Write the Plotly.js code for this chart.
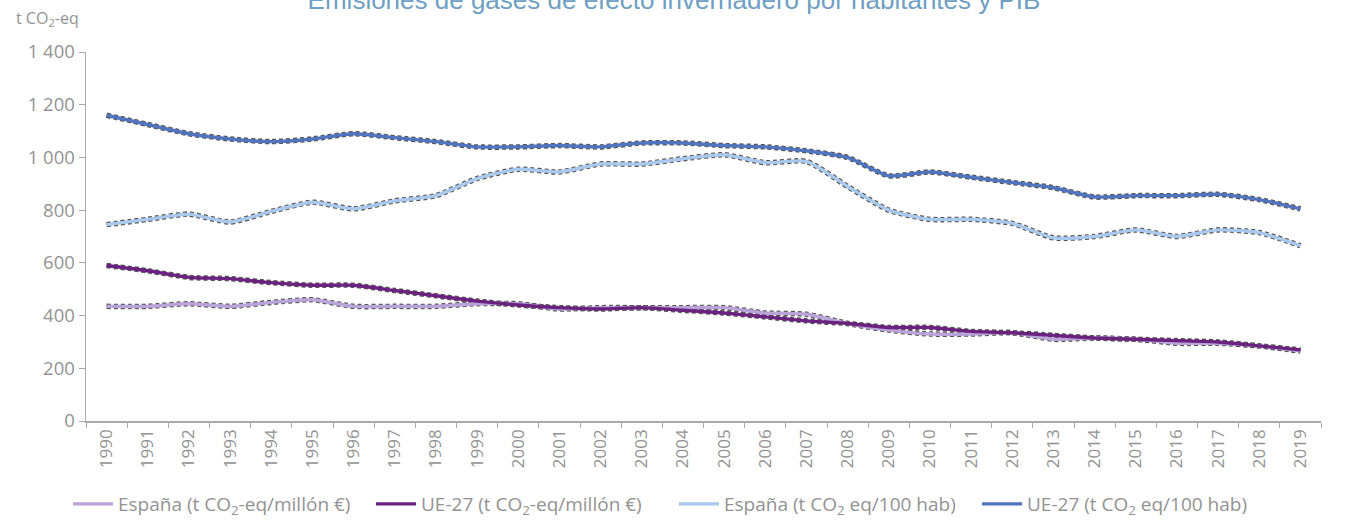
<!DOCTYPE html>
<html><head><meta charset="utf-8">
<script src="https://cdn.plot.ly/plotly-3.0.1.min.js"></script>
<style>html,body{margin:0;padding:0;background:#fff}#chart{width:1348px;height:523px}</style>
</head><body><div id="chart"></div>
<script>
const years = ["1990","1991","1992","1993","1994","1995","1996","1997","1998","1999","2000","2001","2002","2003","2004","2005","2006","2007","2008","2009","2010","2011","2012","2013","2014","2015","2016","2017","2018","2019"];
const espanaPIB = [435,435,445,435,450,460,435,435,435,445,445,425,430,430,430,430,410,405,370,345,330,330,335,310,315,310,295,295,285,265];
const ue27PIB = [590,570,545,540,525,515,515,495,475,455,440,430,425,430,420,410,395,380,370,355,355,340,335,325,315,310,305,300,285,270];
const espanaHab = [745,765,785,755,795,830,805,835,855,920,955,945,975,975,995,1010,980,985,890,800,765,765,750,695,700,725,700,725,715,665];
const ue27Hab = [1160,1125,1090,1070,1060,1070,1090,1075,1060,1040,1040,1045,1040,1055,1055,1045,1040,1025,1000,930,945,925,905,885,850,855,855,860,840,805];
const seriesNames = ["España (t CO<sub>2</sub>-eq/millón €)","UE-27 (t CO<sub>2</sub>-eq/millón €)","España (t CO<sub>2</sub> eq/100 hab)","UE-27 (t CO<sub>2</sub> eq/100 hab)"];
const yTickVals = [0,200,400,600,800,1000,1200,1400];
const yTickText = ["0","200","400","600","800","1 000","1 200","1 400"];

const seriesData = [espanaPIB, ue27PIB, espanaHab, ue27Hab];
const colors = ["#b9a3d8","#6b2180","#a8c8ec","#5174bf"];
const traces = [];
seriesData.forEach(d => {
  traces.push({x: years, y: d, type:'scatter', mode:'lines', showlegend:false, hoverinfo:'skip',
    line:{color:'#555', width:5.5, dash:'4px,3px', shape:'spline', smoothing:0.6}});
});
seriesData.forEach((d,i) => {
  traces.push({x: years, y: d, type:'scatter', mode:'lines', name: seriesNames[i],
    line:{color:colors[i], width:3.4, shape:'spline', smoothing:0.6}});
});

const grey = '#939393';
const layout = {
  width:1348, height:523,
  margin:{l:86, r:27, t:52, b:102},
  paper_bgcolor:'#fff', plot_bgcolor:'#fff',
  font:{family:'"Open Sans", Lato, sans-serif', color:grey, size:15},
  title:{text:'Emisiones de gases de efecto invernadero por habitantes y PIB',
    font:{family:'"Liberation Sans", Arial, sans-serif', size:26, color:'#6f9fc2'},
    x:0.5, xanchor:'center', xref:'container', y:1, yref:'container', yanchor:'middle'},
  xaxis:{type:'category', range:[-0.5,29.5], tickson:'boundaries', ticks:'outside', ticklen:5,
    tickcolor:'#aaa', showline:true, linecolor:'#aaa', linewidth:1.5, showgrid:false,
    tickangle:-90, tickfont:{size:17, color:grey}, fixedrange:true},
  yaxis:{range:[0,1400], tickvals:yTickVals, ticktext:yTickText, ticks:'outside', ticklen:6,
    tickcolor:'#aaa', showline:true, linecolor:'#aaa', linewidth:1.5, showgrid:false, zeroline:false,
    tickfont:{size:18.5, color:grey}, fixedrange:true},
  legend:{orientation:'h', x:0.5, xanchor:'center', xref:'container', y:0, yref:'container', yanchor:'bottom',
    bgcolor:'rgba(0,0,0,0)',
    font:{size:19, color:grey}, itemwidth:40, entrywidth:248, entrywidthmode:'pixels', tracegroupgap:0},
  annotations:[{text:'t CO<sub>2</sub>-eq', xref:'paper', yref:'paper', x:-0.058, y:1.09, xanchor:'left', yanchor:'middle',
    showarrow:false, font:{size:16, color:grey}}]
};
Plotly.newPlot('chart', traces, layout, {displayModeBar:false, staticPlot:true});
</script>
</body></html>
